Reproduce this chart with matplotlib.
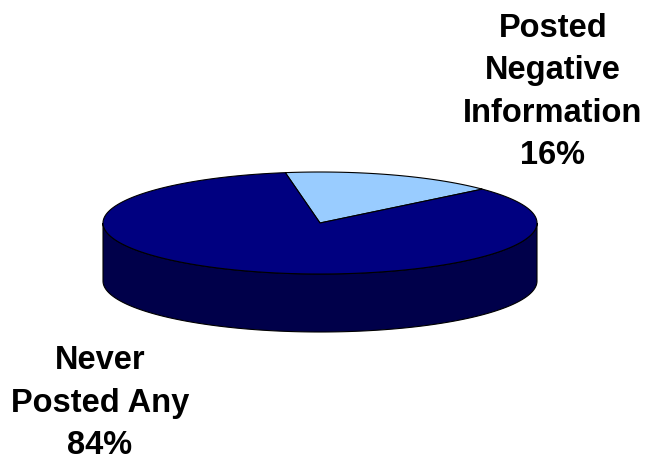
import numpy as np
import matplotlib
matplotlib.use("Agg")
import matplotlib.pyplot as plt
from matplotlib.patches import Polygon

# Data
categories = ["Posted\nNegative\nInformation", "Never\nPosted Any"]
values = [16, 84]
colors = ["#99CCFF", "#000080"]
side_color = "#00004A"

W, H = 659, 461
fig = plt.figure(figsize=(W / 100, H / 100), dpi=100)
ax = fig.add_axes([0, 0, 1, 1])
ax.set_xlim(0, W)
ax.set_ylim(H, 0)
ax.axis("off")

cx, cy, rx, ry, depth = 320, 223, 217, 51, 58
start = 41.6  # degrees, counterclockwise


def pt(a, dy=0.0):
    r = np.deg2rad(a)
    return cx + rx * np.cos(r), cy - ry * np.sin(r) + dy


# side wall (front half)
angs = np.linspace(180, 360, 200)
top = [pt(a) for a in angs]
bot = [pt(a, depth) for a in angs[::-1]]
ax.add_patch(Polygon(top + bot, closed=True, facecolor=side_color,
                     edgecolor="black", linewidth=0.8, zorder=1))

# top slices
total = sum(values)
a0 = start
for v, c in zip(values, colors):
    a1 = a0 + 360 * v / total
    arc = [pt(a) for a in np.linspace(a0, a1, 300)]
    ax.add_patch(Polygon([(cx, cy)] + arc, closed=True, facecolor=c,
                         edgecolor="black", linewidth=0.8, zorder=2))
    a0 = a1

font = dict(family="Liberation Sans", weight="bold", fontsize=23.5,
            ha="center", va="center", linespacing=1.48, color="black")
ax.text(553, 92, f"{categories[0]}\n{values[0]}%", **font)
ax.text(100, 403, f"{categories[1]}\n{values[1]}%", **font)

fig.savefig("out.png", dpi=100)
